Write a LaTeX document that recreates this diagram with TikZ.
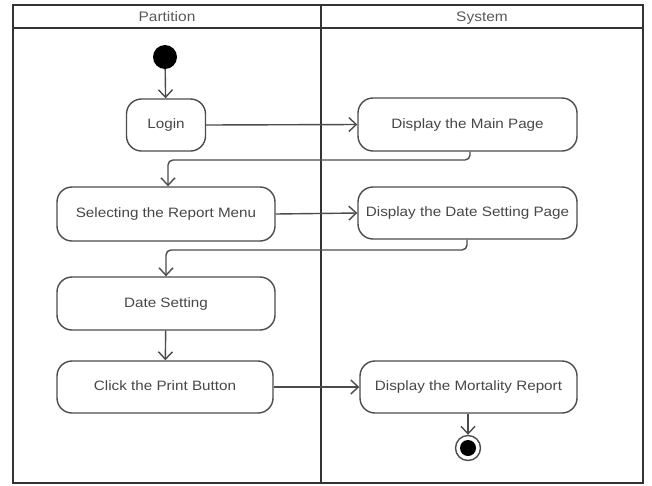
\documentclass[tikz,border=0pt]{standalone}
\usepackage{fontspec}
\newfontfamily\diagfont{Liberation Sans}[FakeStretch=1.12]
\usetikzlibrary{arrows.meta}
\begin{document}
\begin{tikzpicture}[x=1pt,y=-1pt,
  frame/.style={draw=black!80,line width=2pt},
  act/.style={draw=black!70,line width=1.4pt,rounded corners=15pt,fill=white,
    font=\diagfont\fontsize{13.6}{15}\selectfont,text=black!72,inner sep=0pt,
    text height=10pt,text depth=3pt},
  flow/.style={draw=black!70,line width=1.4pt,rounded corners=5pt,
    -{Straight Barb[length=7.5pt,width=14pt,line width=1.4pt]}},
  lbl/.style={font=\diagfont\fontsize{13.8}{15}\selectfont,text=black!65,anchor=base}]
\useasboundingbox (0,0) rectangle (652,485);
\fill[white] (0,0) rectangle (652,485);
% swimlane frame
\draw[frame] (13,5) rectangle (643,483);
\draw[frame] (13,28) -- (643,28);
\draw[frame] (321,5) -- (321,483);
\node[lbl] (hp) at (167,21.5) {Partition};
\node[lbl] (hs) at (482,21.5) {System};
% nodes
\node[circle,fill=black,inner sep=0pt,minimum size=24pt] (start) at (165,57) {};
\node[act,minimum width=79pt,minimum height=52pt] (login) at (166,125) {Login};
\node[act,minimum width=219pt,minimum height=53pt] (main) at (467.5,124.5) {Display the Main Page};
\node[act,minimum width=218pt,minimum height=54pt] (sel) at (166,214) {Selecting the Report Menu};
\node[act,minimum width=219pt,minimum height=52pt] (datepg) at (467.5,213) {Display the Date Setting Page};
\node[act,minimum width=218pt,minimum height=53pt] (dset) at (166,303.5) {Date Setting};
\node[act,minimum width=216pt,minimum height=52pt] (print) at (165,387) {Click the Print Button};
\node[act,minimum width=217pt,minimum height=52pt] (mort) at (468.5,387) {Display the Mortality Report};
\node[circle,draw=black!70,line width=1.4pt,fill=white,inner sep=0pt,minimum size=25pt] (end) at (468,448) {};
\node[circle,fill=black,inner sep=0pt,minimum size=16pt] (endin) at (end.center) {};
% connectors
\draw[flow] (start) -- (login);
\draw[flow] (login.east) -- (main.west);
\draw[flow] (main.south -| 470,0) -- (470,160) -- (168,160) -- (sel.north -| 168,0);
\draw[flow] (sel.east) -- (datepg.west);
\draw[flow] (datepg.south -| 467,0) -- (467,250) -- (166,250) -- (dset.north -| 166,0);
\draw[flow] (dset) -- (print);
\draw[flow] (print.east) -- (mort.west);
\draw[flow] (mort.south -| end.north) -- (end.north);
\end{tikzpicture}
\end{document}
